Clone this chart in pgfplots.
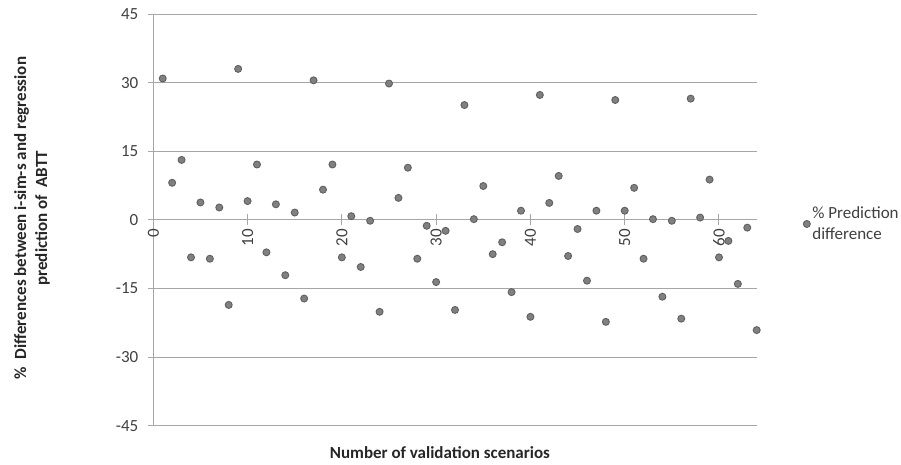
\documentclass[border=0pt]{standalone}
\usepackage{pgfplots}
\pgfplotsset{compat=1.18}
\usepackage{fontspec}
\setmainfont{Carlito}
\definecolor{gridc}{RGB}{166,166,166}
\definecolor{mfill}{RGB}{128,128,128}
\definecolor{mdraw}{RGB}{96,96,96}
\definecolor{tickc}{RGB}{64,64,64}
\definecolor{labc}{RGB}{38,38,38}
\begin{document}
\begin{tikzpicture}
\path[use as bounding box] (0,0) rectangle (901bp,465bp);
\begin{axis}[
  at={(153.3bp,39.3bp)}, anchor=south west,
  width=603.4bp, height=411.7bp, scale only axis,
  xmin=0, xmax=64, ymin=-45, ymax=45,
  xtick={0,10,...,60}, ytick={-45,-30,...,45},
  axis x line*=middle, axis y line*=left,
  hide obscured x ticks=false, hide obscured y ticks=false,
  axis line style={color=gridc, line width=1bp},
  ymajorgrids, major grid style={color=gridc, line width=1bp},
  tick align=center, major tick length=11bp,
  tick style={color=gridc, line width=1bp},
  /pgf/number format/assume math mode=true,
  tick label style={font=\fontsize{17bp}{20bp}\selectfont, text=tickc},
  xticklabel style={rotate=90, anchor=east, xshift=0bp},
  yticklabel style={xshift=-6bp},
  clip=false,
  xlabel={\textbf{Number of validation scenarios}},
  xlabel style={at={(axis description cs:0.475,-0.066)}, anchor=center, font=\fontsize{17bp}{20bp}\selectfont, text=labc},
  ylabel={\textbf{\%\ \ Differences between i-sim-s and regression}\\\textbf{prediction of\ \ ABTT}},
  ylabel style={at={(axis description cs:-0.201,0.504)}, anchor=center, align=center, font=\fontsize{17bp}{21bp}\selectfont, text=labc},
  legend style={at={(axis description cs:1.072,0.49)}, anchor=west, draw=none, fill=none,
    font=\fontsize{17bp}{21bp}\selectfont, text=tickc, cells={align=left, anchor=west}},
]
\addplot[only marks, mark=*, mark size=3.5bp, mark options={fill=mfill, draw=mdraw, line width=0.9bp}] coordinates {
(1,30.9) (2,8.1) (3,13.1) (4,-8.2) (5,3.8) (6,-8.5) (7,2.7) (8,-18.6) (9,33.0) (10,4.1)
(11,12.1) (12,-7.1) (13,3.4) (14,-12.1) (15,1.6) (16,-17.2) (17,30.5) (18,6.6) (19,12.1) (20,-8.2)
(21,0.8) (22,-10.3) (23,-0.2) (24,-20.1) (25,29.8) (26,4.8) (27,11.4) (28,-8.5) (29,-1.3) (30,-13.6)
(31,-2.4) (32,-19.7) (33,25.1) (34,0.15) (35,7.4) (36,-7.5) (37,-4.9) (38,-15.8) (39,2.0) (40,-21.2)
(41,27.3) (42,3.7) (43,9.6) (44,-7.9) (45,-2.0) (46,-13.3) (47,2.0) (48,-22.3) (49,26.2) (50,2.0)
(51,7.0) (52,-8.5) (53,0.15) (54,-16.8) (55,-0.2) (56,-21.6) (57,26.5) (58,0.5) (59,8.8) (60,-8.2)
(61,-4.6) (62,-14.0) (63,-1.7) (64,-24.1)
};
\addlegendentry{\% Prediction\\difference}
\end{axis}
\end{tikzpicture}
\end{document}
